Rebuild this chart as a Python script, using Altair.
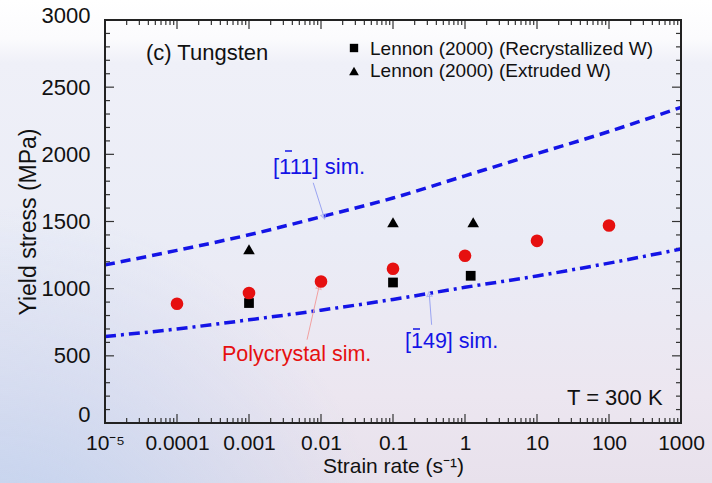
import json
import altair as alt
import pandas as pd

# ---- data -------------------------------------------------------------
# polycrystal simulation (red circles)
rate_poly = [1e-4, 1e-3, 1e-2, 1e-1, 1, 10, 100]
stress_poly = [888, 968, 1053, 1148, 1245, 1356, 1470]

# Lennon (2000) recrystallized W (squares)
rate_recr = [1e-3, 1e-1, 1.2]
stress_recr = [893, 1046, 1096]

# Lennon (2000) extruded W (triangles)
rate_extr = [1e-3, 1e-1, 1.3]
stress_extr = [1293, 1495, 1495]

# single-crystal simulations
rate_curve = [1e-5, 1e-4, 1e-3, 1e-2, 1e-1, 1, 10, 100, 1000]
stress_111 = [1177, 1285, 1401, 1535, 1675, 1840, 2005, 2170, 2350]
stress_149 = [644, 700, 768, 840, 920, 1010, 1095, 1190, 1295]

# annotation arrows: (rate_tail, stress_tail, rate_tip, stress_tip)
arrow_111 = [0.0078, 1788, 0.011, 1535]
arrow_poly = [0.0064, 620, 0.0094, 1015]
arrow_149 = [0.344, 731, 0.319, 960]

# axis ticks and labels
x_major = [1e-5, 1e-4, 1e-3, 1e-2, 1e-1, 1, 10, 100, 1000]
x_labels = ["10\u207b\u2075", "0.0001", "0.001", "0.01", "0.1", "1", "10", "100", "1000"]
x_minor = [m * d for d in x_major[:-1] for m in range(2, 10)]
y_major = [0, 500, 1000, 1500, 2000, 2500, 3000]
y_minor = [v for v in range(100, 3000, 100) if v % 500 != 0]

# ---- layout -----------------------------------------------------------
W, H = 576, 403
PAD_L, PAD_T, PAD_R, PAD_B = 105, 20, 31, 60
FONT = "Liberation Sans"
BLUE = "#1414e6"
RED = "#e61010"

xscale = alt.Scale(type="log", domain=[1e-5, 1000], nice=False)
yscale = alt.Scale(domain=[0, 3000], nice=False)

label_expr = json.dumps(x_labels) + "[round(log(datum.value)/LN10)+5]"
xaxis = alt.Axis(
    values=x_major, labelExpr=label_expr, ticks=False, domain=False, grid=False,
    labelFont=FONT, labelFontSize=21, labelColor="#111", labelPadding=9,
    labelFlush=False, labelOverlap=False,
    title="Strain rate (s\u207b\u00b9)", titleFont=FONT, titleFontSize=21,
    titleFontWeight="normal", titleColor="#111", titlePadding=2, zindex=1,
)
yaxis = alt.Axis(
    values=y_major, format="d", ticks=False, domain=False, grid=False,
    labelFont=FONT, labelFontSize=22, labelColor="#111", labelPadding=15,
    labelOffset={"condition": [{"test": "datum.value == 0", "value": -9},
                               {"test": "datum.value == 3000", "value": -5}],
                 "value": 0},
    title="Yield stress (MPa)", titleFont=FONT, titleFontSize=23,
    titleFontWeight="normal", titleColor="#111", titlePadding=1, zindex=1,
)


def X(field):
    return alt.X(field, type="quantitative", scale=xscale, axis=xaxis)


def Y(field):
    return alt.Y(field, type="quantitative", scale=yscale, axis=yaxis)


one = alt.Data(values=[{}])

# ---- background -------------------------------------------------------
sky = alt.Chart(one).mark_rect(
    fill={"gradient": "linear", "x1": 0, "y1": 0, "x2": 0, "y2": 1,
          "stops": [{"offset": 0, "color": "#ffffff"},
                    {"offset": 0.08, "color": "#fbfbfd"},
                    {"offset": 0.13, "color": "#eff0f8"},
                    {"offset": 0.5, "color": "#eaecf6"},
                    {"offset": 0.82, "color": "#ece6f0"},
                    {"offset": 1, "color": "#e8e1ec"}]}
).encode(x=alt.value(-PAD_L), x2=alt.value(W + PAD_R),
         y=alt.value(-PAD_T), y2=alt.value(H + PAD_B))

haze = alt.Chart(one).mark_rect(
    fill={"gradient": "radial", "x1": 0, "y1": 1, "r1": 0, "x2": 0, "y2": 1, "r2": 0.55,
          "stops": [{"offset": 0, "color": "rgba(180,205,240,0.85)"},
                    {"offset": 1, "color": "rgba(180,205,240,0)"}]}
).encode(x=alt.value(-PAD_L), x2=alt.value(W + PAD_R),
         y=alt.value(-PAD_T), y2=alt.value(H + PAD_B))

# ---- inward ticks -----------------------------------------------------
tick_col = "#333333"
xmaj = pd.DataFrame({"rate": x_major})
xmin = pd.DataFrame({"rate": x_minor})
ymaj = pd.DataFrame({"stress": y_major})
ymin = pd.DataFrame({"stress": y_minor})


def xticks(df, y0, y1):
    return alt.Chart(df).mark_rule(color=tick_col, strokeWidth=1.2).encode(
        x=X("rate"), y=alt.value(y0), y2=alt.value(y1))


def yticks(df, x0, x1):
    return alt.Chart(df).mark_rule(color=tick_col, strokeWidth=1.2).encode(
        y=Y("stress"), x=alt.value(x0), x2=alt.value(x1))


ticks = [
    xticks(xmaj, H, H - 9), xticks(xmin, H, H - 5),
    xticks(xmaj, 0, 9), xticks(xmin, 0, 5),
    yticks(ymaj, 0, 9), yticks(ymin, 0, 5),
    yticks(ymaj, W, W - 9), yticks(ymin, W, W - 5),
]

# ---- curves -------------------------------------------------------------
curves = pd.DataFrame({"rate": rate_curve, "s111": stress_111, "s149": stress_149})
line_111 = alt.Chart(curves).mark_line(
    color=BLUE, strokeWidth=3.5, strokeDash=[10, 6], interpolate="monotone"
).encode(x=X("rate"), y=Y("s111"))
line_149 = alt.Chart(curves).mark_line(
    color=BLUE, strokeWidth=3.5, strokeDash=[11, 5, 3, 5], interpolate="monotone"
).encode(x=X("rate"), y=Y("s149"))

# ---- annotation arrows --------------------------------------------------
def arrow(vals, color, angle):
    df = pd.DataFrame({"rate": [vals[0]], "stress": [vals[1]],
                       "rate2": [vals[2]], "stress2": [vals[3]]})
    shaft = alt.Chart(df).mark_rule(color=color, strokeWidth=1).encode(
        x=X("rate"), y=Y("stress"), x2="rate2", y2="stress2")
    head = alt.Chart(df).mark_point(
        shape="triangle-up", filled=False, color=color, size=28,
        strokeWidth=1, angle=angle
    ).encode(x=X("rate2"), y=Y("stress2"))
    return shaft + head


arrows = [
    arrow(arrow_111, "#9aa4f2", 162),
    arrow(arrow_poly, "#f2a0a0", 13),
    arrow(arrow_149, "#9aa4f2", 355),
]

# ---- symbols --------------------------------------------------------------
recr = alt.Chart(pd.DataFrame({"rate": rate_recr, "stress": stress_recr})).mark_point(
    shape="square", filled=True, color="#000000", size=95, opacity=1
).encode(x=X("rate"), y=Y("stress"))
extr = alt.Chart(pd.DataFrame({"rate": rate_extr, "stress": stress_extr})).mark_point(
    shape="triangle-up", filled=True, color="#000000", size=135, opacity=1
).encode(x=X("rate"), y=Y("stress"))
poly = alt.Chart(pd.DataFrame({"rate": rate_poly, "stress": stress_poly})).mark_point(
    shape="circle", filled=True, color=RED, size=160, opacity=1
).encode(x=X("rate"), y=Y("stress"))

# ---- text -----------------------------------------------------------------
def label(text, x, y, color="#111111", size=22):
    return alt.Chart(one).mark_text(
        text=text, font=FONT, fontSize=size, color=color,
        align="left", baseline="alphabetic"
    ).encode(x=alt.value(x), y=alt.value(y))


def bar(x0, x1, y, color):
    # short overbar marking a negative Miller index
    return alt.Chart(one).mark_rule(color=color, strokeWidth=1.5).encode(
        x=alt.value(x0), x2=alt.value(x1), y=alt.value(y))


texts = [
    label("(c) Tungsten", 41, 40),
    label("Lennon (2000) (Recrystallized W)", 265, 35, size=19),
    label("Lennon (2000) (Extruded W)", 265, 57, size=19),
    label("[111] sim.", 168, 154, color=BLUE),
    bar(180, 187, 131, BLUE),
    label("Polycrystal sim.", 117, 341, color=RED, size=21.5),
    label("[149] sim.", 300, 328, color=BLUE, size=21.5),
    bar(308, 315, 309, BLUE),
    label("T = 300 K", 462, 385),
]

key_sq = alt.Chart(one).mark_point(shape="square", filled=True, color="#000", size=70,
                                   opacity=1).encode(x=alt.value(249), y=alt.value(28))
key_tri = alt.Chart(one).mark_point(shape="triangle-up", filled=True, color="#000", size=95,
                                    opacity=1).encode(x=alt.value(249), y=alt.value(51))

frame = alt.Chart(one).mark_rect(filled=False, stroke="#222222", strokeWidth=2).encode(
    x=alt.value(0), x2=alt.value(W), y=alt.value(0), y2=alt.value(H))

chart = alt.layer(
    sky, haze, *ticks, line_111, line_149, *arrows, recr, extr, poly,
    *texts, key_sq, key_tri, frame
).properties(
    width=W, height=H,
    autosize=alt.AutoSizeParams(type="none"),
    padding={"left": PAD_L, "top": PAD_T, "right": PAD_R, "bottom": PAD_B},
).configure_view(stroke=None).configure(background="#ffffff")

chart.save("out.html", embed_options={"renderer": "svg", "actions": False})
